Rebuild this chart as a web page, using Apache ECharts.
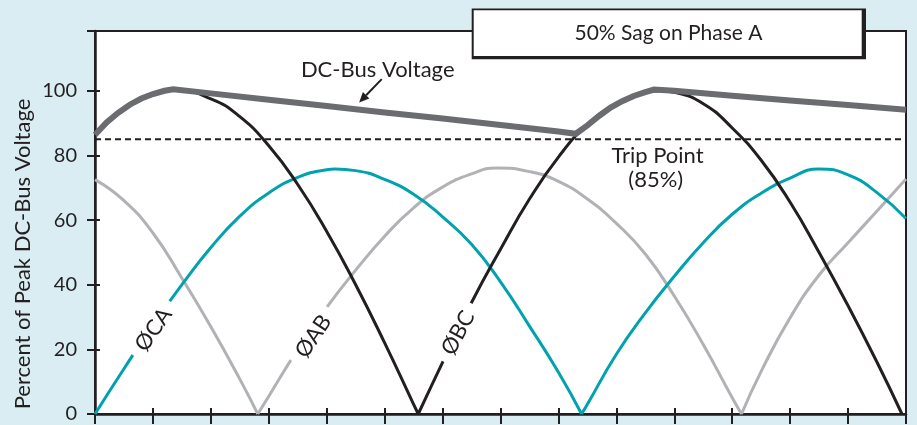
<!DOCTYPE html>
<html>
<head>
<meta charset="utf-8">
<script src="https://cdn.jsdelivr.net/npm/echarts@6/dist/echarts.min.js"></script>
<style>
html,body{margin:0;padding:0;background:#d9edf2;}
#chart{width:917px;height:425px;}
</style>
</head>
<body>
<div id="chart"></div>
<script>
// x in tick units (14 ticks across), y in percent of peak DC-bus voltage
// null marks the cusp where the rectified wave touches zero
var caX = [0, 0.5, 1, 1.5, 2, 2.5, 3, 3.5, 4, 4.14, 4.5, 5, 5.5, 6, 6.5, 7, 7.5, 8, 8.4, 8.4, 8.4, 8.5, 9, 9.5, 10, 10.5, 11, 11.5, 12, 12.49, 13, 13.5, 14];
var caY = [0, 14, 27.5, 40, 51.5, 61.2, 68.4, 73.2, 75.6, 75.8, 75.3, 72.6, 68, 61, 52.5, 40.9, 27.2, 12.9, 0, null, 0, 3, 18.5, 31.3, 42.6, 53, 61.8, 68.3, 73, 75.8, 74, 68.5, 60.5];

var abX = [0, 0.5, 1, 1.5, 2, 2.5, 2.81, 2.81, 2.81, 3, 3.5, 4, 4.5, 5, 5.5, 6, 6.5, 6.93, 7.5, 8, 8.5, 9, 9.5, 10, 10.5, 11, 11.16, 11.16, 11.16, 11.5, 12, 12.5, 13, 13.5, 14];
var abY = [72.5, 66, 56, 42, 27, 10.8, 0, null, 0, 5.5, 20, 33, 44.5, 55, 63.8, 70.2, 74.3, 76.1, 75, 72, 66.5, 59, 49.5, 36.5, 21.5, 5, 0, null, 0, 13.2, 29.8, 43, 53, 62.8, 72.7];

var bcX = [0, 0.5, 1, 1.4, 2, 2.5, 3, 3.5, 4, 4.5, 5, 5.5, 5.58, 5.58, 5.58, 6, 6.5, 7, 7.5, 8, 8.5, 9, 9.5, 9.75, 10, 10.5, 11, 11.5, 12, 12.5, 13, 13.5, 13.93];
var bcY = [86.4, 94.5, 99, 100.2, 97.5, 92, 83, 71, 56.5, 40, 22, 3, 0, null, 0, 16, 34.5, 51, 66.5, 79.5, 89.5, 96, 99.5, 100, 99.5, 96, 88.5, 78.5, 65.5, 50, 33.5, 16, 0];

var dcX = [0, 0.2, 0.4, 0.6, 0.8, 1, 1.2, 1.35, 2, 3, 4, 5, 6, 7, 8, 8.3, 8.5, 8.7, 8.9, 9.1, 9.3, 9.5, 9.65, 10, 11, 12, 13, 14];
var dcY = [86.4, 90.2, 93.2, 95.7, 97.6, 99, 100, 100.5, 99.2, 97.2, 95.3, 93.3, 91.4, 89.4, 87.4, 86.7, 89.3, 92.2, 94.8, 96.8, 98.4, 99.6, 100.4, 100, 98.5, 97, 95.6, 94.1];

var tripX = [0, 14];
var tripY = [85, 85];

var yTickMax = 100;

// annotation anchors in data coords
var phaseLabels = [
  { text: '\u00d8CA', at: [1.01, 26.1], angle: 55 },
  { text: '\u00d8AB', at: [3.77, 24.0], angle: 56 },
  { text: '\u00d8BC', at: [6.27, 25.1], angle: 62 }
];
var dcLabelAt = [4.88, 106.5];
var arrowFrom = [4.95, 103.6];
var arrowTo = [4.56, 96.4];
var tripLabelAt = [9.71, 79.9];
var tripPctAt = [9.68, 72.5];

var ink = '#231f20';
var font = 'Lato, "Open Sans", sans-serif';

function pairs(xs, ys) {
  return xs.map(function (x, i) { return [x, ys[i] === null ? '-' : ys[i]]; });
}

function wave(data, color, width, z, smooth) {
  return {
    type: 'line', data: data, smooth: smooth, symbol: 'none', z: z,
    connectNulls: false,
    lineStyle: { color: color, width: width, join: 'miter' }
  };
}

var chart = echarts.init(document.getElementById('chart'));

var option = {
  animation: false,
  backgroundColor: '#d9edf2',
  grid: {
    left: 95, right: 11, top: 31, bottom: 11,
    show: true, backgroundColor: '#fff', borderColor: ink, borderWidth: 2,
    outerBoundsMode: 'none'
  },
  xAxis: [
    {
      type: 'value', min: 0, max: 14, interval: 1, position: 'bottom',
      axisLine: { show: true, onZero: false, lineStyle: { color: ink, width: 2.5 } },
      axisTick: { show: true, inside: false, length: 10, lineStyle: { color: ink, width: 2 } },
      axisLabel: { show: false }, splitLine: { show: false }
    },
    {
      type: 'value', min: 0, max: 14, interval: 1, position: 'bottom',
      axisLine: { show: false, onZero: false },
      axisTick: { show: true, inside: true, length: 6, lineStyle: { color: ink, width: 2 } },
      axisLabel: { show: false }, splitLine: { show: false }
    }
  ],
  yAxis: [
    {
      type: 'value', min: 0, max: 118.5, interval: 20, position: 'left',
      axisLine: { show: true, onZero: false, lineStyle: { color: ink, width: 2.5 } },
      axisTick: { show: true, inside: false, length: 8, lineStyle: { color: ink, width: 2 } },
      axisLabel: {
        margin: 18, color: ink, fontSize: 20, fontFamily: font,
        formatter: function (v) { return v > yTickMax ? '' : String(v); }
      },
      splitLine: { show: false }
    },
    {
      type: 'value', min: 0, max: 118.5, interval: 20, position: 'left',
      axisLine: { show: false, onZero: false },
      axisTick: { show: true, inside: true, length: 5, lineStyle: { color: ink, width: 2 } },
      axisLabel: { show: false }, splitLine: { show: false }
    }
  ],
  series: [
    {
      type: 'line', data: pairs(tripX, tripY), symbol: 'none', z: 1,
      lineStyle: { color: ink, width: 2, type: [6, 4] }
    },
    wave(pairs(abX, abY), '#b1b2b5', 3, 2, true),
    wave(pairs(caX, caY), '#00a2ad', 3, 3, true),
    wave(pairs(bcX, bcY), ink, 3, 4, true),
    wave(pairs(dcX, dcY), '#6b6c70', 6, 5, false)
  ]
};

chart.setOption(option);

function px(p) { return chart.convertToPixel({ gridIndex: 0 }, p); }

var g = [];
// title box with offset shadow
g.push({ type: 'rect', z: 100, shape: { x: 471.7, y: 8.5, width: 394.3, height: 50.8 }, style: { fill: ink } });
g.push({ type: 'rect', z: 101, shape: { x: 473.7, y: 10.3, width: 388, height: 45.7 }, style: { fill: '#fff' } });
g.push({ type: 'text', z: 102, x: 668.5, y: 33, style: { text: '50% Sag on Phase A', fontSize: 21, fontFamily: font, fill: ink, align: 'center', verticalAlign: 'middle' } });

// y axis name
g.push({ type: 'text', z: 102, x: 23, y: 254, rotation: Math.PI / 2, style: { text: 'Percent of Peak DC-Bus Voltage', fontSize: 22, fontFamily: font, fill: ink, align: 'center', verticalAlign: 'middle' } });

// DC-bus label and arrow
var dl = px(dcLabelAt);
g.push({ type: 'text', z: 102, x: dl[0], y: dl[1], style: { text: 'DC-Bus Voltage', fontSize: 22, fontFamily: font, fill: ink, align: 'center', verticalAlign: 'middle' } });
var a0 = px(arrowFrom), a1 = px(arrowTo);
var dx = a1[0] - a0[0], dy = a1[1] - a0[1], len = Math.sqrt(dx * dx + dy * dy);
var ux = dx / len, uy = dy / len, head = 10, half = 4.5;
var bx = a1[0] - ux * head, by = a1[1] - uy * head;
g.push({ type: 'line', z: 102, shape: { x1: a0[0], y1: a0[1], x2: bx, y2: by }, style: { stroke: ink, lineWidth: 2 } });
g.push({ type: 'polygon', z: 102, shape: { points: [[a1[0], a1[1]], [bx - uy * half, by + ux * half], [bx + uy * half, by - ux * half]] }, style: { fill: ink } });

// trip point label
var t1 = px(tripLabelAt), t2 = px(tripPctAt);
g.push({ type: 'text', z: 102, x: t1[0], y: t1[1], style: { text: 'Trip Point', fontSize: 22, fontFamily: font, fill: ink, align: 'center', verticalAlign: 'middle' } });
g.push({ type: 'text', z: 102, x: t2[0], y: t2[1], style: { text: '(85%)', fontSize: 22, fontFamily: font, fill: ink, align: 'center', verticalAlign: 'middle' } });

// phase labels sitting in gaps of the curves
phaseLabels.forEach(function (l) {
  var p = px(l.at);
  g.push({
    type: 'text', z: 102, x: p[0], y: p[1], rotation: l.angle * Math.PI / 180,
    style: { text: l.text, fontSize: 22, fontFamily: font, fill: ink, align: 'center', verticalAlign: 'middle', backgroundColor: '#fff', padding: [0, 9] }
  });
});

chart.setOption({ graphic: g });
</script>
</body>
</html>
